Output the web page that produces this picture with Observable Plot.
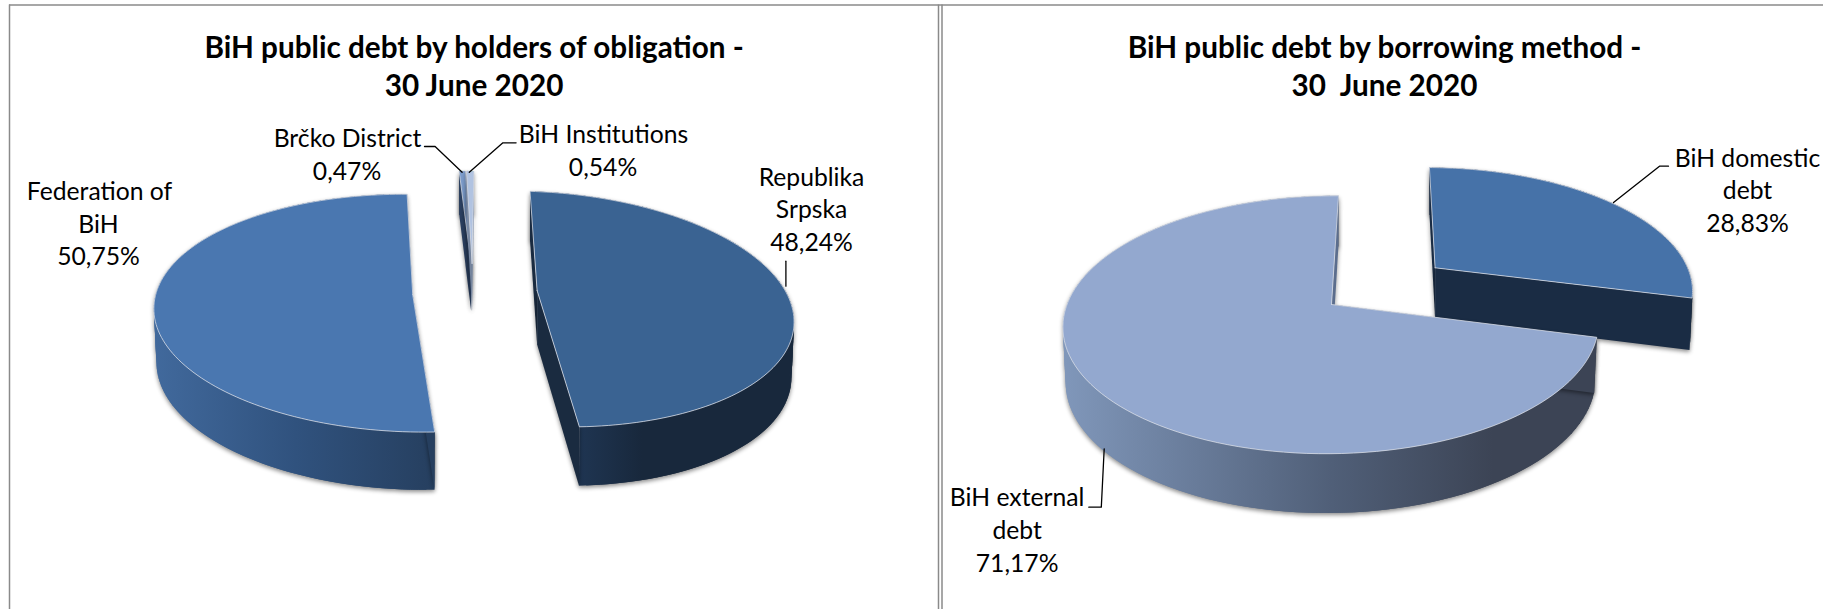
<!DOCTYPE html>
<html>
<head>
<meta charset="utf-8">
<script src="https://cdn.jsdelivr.net/npm/d3@7"></script>
<script src="https://cdn.jsdelivr.net/npm/@observablehq/plot@0.6"></script>
<style>html,body{margin:0;padding:0;background:#fff;overflow:hidden}</style>
</head>
<body>
<div id="chart"></div>
<script>
// Data
const holderNames = ["Federation of BiH", "Brčko District", "BiH Institutions", "Republika Srpska"];
const holderValues = [50.75, 0.47, 0.54, 48.24];
const methodNames = ["BiH external debt", "BiH domestic debt"];
const methodValues = [71.17, 28.83];
const titles = [
  ["BiH public debt by holders of obligation -", "30 June 2020"],
  ["BiH public debt by borrowing method -", "30  June 2020"]
];
const pct = v => v.toFixed(2).replace(".", ",");

// Layout of the exploded slices (apex, radii, shear, wall height)
const perspective = 0.157;
const holderStart = 178, methodStart = 104.5;
const holderLayout = [
  {ax: 412.2, ay: 294, R: 257, Rz: 116, sh: 9.6, dy: 53, top: "#4a77b0", wall: "url(#gFed)", cut0: "#263f5f", cut1: "#2a4668"},
  {ax: 470.6, ay: 263, R: 250, Rz: 107, sh: 16.9, dy: 47, top: "#7c9ccb", wall: "#2b3f5f", cut0: "#2b3f5f", cut1: "#2b3f5f"},
  {ax: 471.6, ay: 263, R: 250, Rz: 107, sh: 16.9, dy: 47, top: "#b1c3e1", wall: "#7b8ba5", cut0: "#7b8ba5", cut1: "#7b8ba5"},
  {ax: 536.6, ay: 290, R: 248, Rz: 115, sh: 27, dy: 54, top: "#3a6392", wall: "url(#gRS)", cut0: "#1a2b40", cut1: "#1a2b40"}
];
const methodLayout = [
  {ax: 1331, ay: 304, R: 264.5, Rz: 125.8, sh: -4.8, dy: 54.5, top: "#93a8cf", wall: "url(#gExt)", cut0: "#3c4455", cut1: "#5b6d8d"},
  {ax: 1434.6, ay: 267.3, R: 252.5, Rz: 116, sh: 9.7, dy: 51, top: "#4672a8", wall: "#1a2c44", cut0: "#1a2c44", cut1: "#1a2c44"}
];

function project(deg, r, p, bottom) {
  const t = deg * Math.PI / 180;
  const u = r * Math.sin(t), v = -r * Math.cos(t);
  const s = 1 / (1 - perspective * v);
  let x = (p.R * u + p.sh * v) * s, y = p.ay + p.Rz * v * s;
  if (bottom) { x *= 0.99; y += p.dy * Math.sqrt(s); }
  return {x: p.ax + x, y};
}
const arc = (a, b, p, bottom) => d3.range(0, 121).map(i => project(a + (b - a) * i / 120, 1, p, bottom));

function sliceMarks(values, layout, start, order) {
  let a = start;
  const spans = values.map(v => { const s = [a, a + v * 3.6]; a = s[1]; return s; });
  const groups = order.map(i => {
    const [a0, a1] = spans[i], p = layout[i];
    const shadow = "drop-shadow(0px 2px 2px rgba(0,0,0,.45))";
    const tops = arc(a0, a1, p, false), bots = arc(a0, a1, p, true);
    // the side of the cylinder, as overlapping strips so its silhouette stays convex
    const strips = d3.range(0, 119).flatMap(k => [
      {...tops[k], k}, {...tops[k + 2], k}, {...bots[k + 2], k}, {...bots[k], k}, {...tops[k], k}
    ]);
    const face = t => [project(t, 1, p, false), project(t, 1, p, true), project(t, 0, p, true), project(t, 0, p, false)];
    const top = [project(a0, 0, p, false), ...tops];
    const poly = (d, fill, extra = {}) => Plot.line([...d, d[0]], {x: "x", y: "y", fill, stroke: "none", ...extra});
    return [
      Plot.line(strips, {x: "x", y: "y", z: "k", fill: p.wall, stroke: "none", imageFilter: shadow}),
      poly(face(a0), p.cut0, {imageFilter: shadow}),
      poly(face(a1), p.cut1, {imageFilter: shadow}),
      poly(top, p.top, {stroke: "#d5dbe5", strokeWidth: 0.8})
    ];
  });
  return groups.flat();
}

const font = "Lato, Carlito, sans-serif";
const titleRows = [
  {t: titles[0][0], x: 473.6, y: 48}, {t: titles[0][1], x: 473.6, y: 86},
  {t: titles[1][0], x: 1384, y: 48}, {t: titles[1][1], x: 1384, y: 86}
];
const labelRows = [
  {t: "Federation of", x: 99, y: 192}, {t: "BiH", x: 98, y: 224.5}, {t: pct(holderValues[0]) + "%", x: 98, y: 257},
  {t: holderNames[1], x: 347, y: 139}, {t: pct(holderValues[1]) + "%", x: 346.5, y: 172},
  {t: holderNames[2], x: 603, y: 135}, {t: pct(holderValues[2]) + "%", x: 602.5, y: 168},
  {t: "Republika", x: 811, y: 178}, {t: "Srpska", x: 811, y: 210}, {t: pct(holderValues[3]) + "%", x: 811, y: 243},
  {t: "BiH domestic", x: 1747, y: 159}, {t: "debt", x: 1747, y: 191}, {t: pct(methodValues[1]) + "%", x: 1747, y: 224},
  {t: "BiH external", x: 1016.6, y: 498}, {t: "debt", x: 1016.6, y: 531}, {t: pct(methodValues[0]) + "%", x: 1016.6, y: 564}
];
const leaders = [
  [[424, 146], [434.6, 146], [461.6, 171.7]],
  [[515.6, 142.3], [502.4, 142.3], [468.8, 171.7]],
  [[785.4, 260.7], [785.4, 285.7]],
  [[1668, 165.7], [1659, 165.7], [1613, 202]],
  [[1088.3, 506.7], [1100.8, 506.7], [1103.7, 448.3]]
];
const leaderPts = leaders.flatMap((l, i) => l.map(([x, y]) => ({x, y, i})));

const gradient = (id, x1, x2, stops) =>
  `<linearGradient id="${id}" gradientUnits="userSpaceOnUse" x1="${x1}" x2="${x2}" y1="0" y2="0">` +
  stops.map(([o, c]) => `<stop offset="${o}" stop-color="${c}"/>`).join("") + `</linearGradient>`;
function defs() {
  const g = document.createElementNS("http://www.w3.org/2000/svg", "defs");
  g.innerHTML =
    gradient("gFed", 155, 435, [[0, "#41699c"], [0.5, "#30527e"], [1, "#263f5f"]]) +
    gradient("gRS", 578, 790, [[0, "#1f3552"], [0.3, "#18283c"], [1, "#18283c"]]) +
    gradient("gExt", 1063, 1600, [[0, "#8097ba"], [0.5, "#505f78"], [0.8, "#3c4455"], [1, "#3c4455"]]);
  return g;
}

const plot = Plot.plot({
  width: 1823, height: 609, margin: 0,
  style: {background: "#fff"},
  x: {domain: [0, 1823], range: [0, 1823], axis: null},
  y: {domain: [0, 609], range: [0, 609], axis: null},
  marks: [
    defs,
    Plot.ruleY([4.5], {x1: 9, x2: 1823, stroke: "#8a8a8a", strokeWidth: 1.5}),
    Plot.ruleX([9, 938, 941.5], {y1: 4.5, y2: 609, stroke: "#8a8a8a", strokeWidth: 1.5}),
    ...sliceMarks(holderValues, holderLayout, holderStart, [1, 2, 0, 3]),
    ...sliceMarks(methodValues, methodLayout, methodStart, [1, 0]),
    Plot.line(leaderPts, {x: "x", y: "y", z: "i", stroke: "#000", strokeWidth: 1.3}),
    Plot.text(titleRows, {x: "x", y: "y", text: "t", fontFamily: font, fontWeight: 700, fontSize: 29.7, fill: "#000"}),
    Plot.text(labelRows, {x: "x", y: "y", text: "t", fontFamily: font, fontSize: 24.7, fill: "#000"})
  ]
});
document.getElementById("chart").append(plot);
</script>
</body>
</html>
